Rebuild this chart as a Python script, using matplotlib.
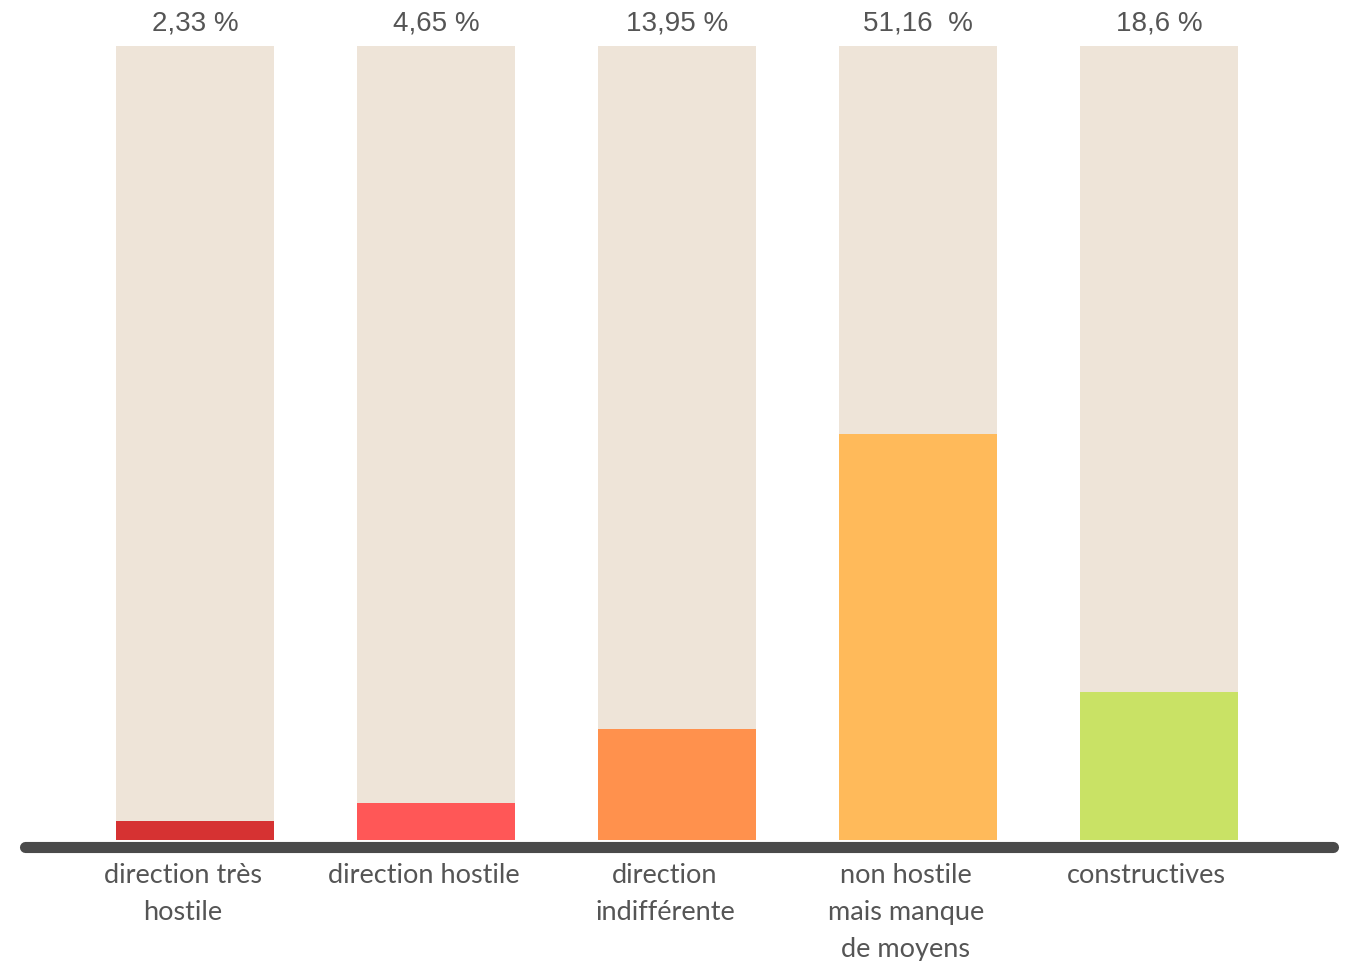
import matplotlib.pyplot as plt

# data
categories = ["direction très\nhostile", "direction hostile", "direction\nindifférente",
              "non hostile\nmais manque\nde moyens", "constructives"]
values = [2.33, 4.65, 13.95, 51.16, 18.6]
value_labels = ["2,33 %", "4,65 %", "13,95 %", "51,16  %", "18,6 %"]
colors = ["#D63232", "#FF5757", "#FF914D", "#FFBA5A", "#C9E265"]
background = "#EEE4D8"

fig = plt.figure(figsize=(13.5, 9.62), dpi=100)
ax = fig.add_axes([0, 0.1258, 1, 0.8253])

x = list(range(len(values)))
ax.bar(x, [100] * len(values), width=0.656, color=background, zorder=1)
ax.bar(x, values, width=0.656, color=colors, zorder=2)

for i, lab in enumerate(value_labels):
    ax.text(i, 103.0, lab, ha="center", va="center", fontsize=20,
            color="#555555", family="Liberation Sans")

for i, cat in enumerate(categories):
    ax.text(i - 0.05, -2.8, cat, ha="center", va="top", fontsize=19.5,
            color="#555555", family="Lato", linespacing=1.6)

# thick dark baseline
ax.plot([-0.705, 4.722], [-0.9, -0.9], color="#4A4A4A", linewidth=8,
        solid_capstyle="round", zorder=3, clip_on=False)

ax.set_xlim(-0.809, 4.793)
ax.set_ylim(0, 100)
ax.axis("off")

fig.savefig("out.png", dpi=100)
